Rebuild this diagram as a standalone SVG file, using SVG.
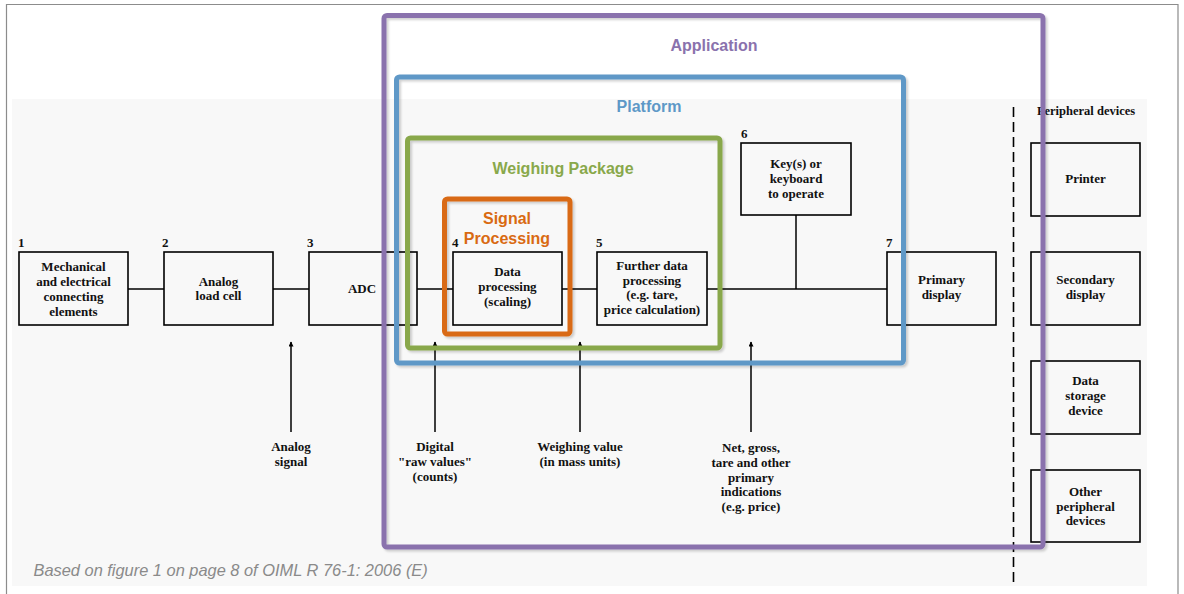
<svg xmlns="http://www.w3.org/2000/svg" width="1184" height="594" viewBox="0 0 1184 594">
<defs>
<style>
.box{fill:none;stroke:#000;stroke-width:1.6}
.bt{font-family:"Liberation Serif","Times New Roman",serif;font-weight:bold;font-size:13px;fill:#111;text-anchor:middle}
.num{font-family:"Liberation Serif","Times New Roman",serif;font-weight:bold;font-size:13px;fill:#111}
.line{stroke:#000;stroke-width:1.5;fill:none}
.frame{fill:none;stroke-width:5;filter:url(#sh)}
.fl{font-family:"Liberation Sans",Arial,sans-serif;font-weight:bold;font-size:16px;text-anchor:middle}
</style>
<marker id="ah" viewBox="0 0 10 10" refX="9" refY="5" markerWidth="10" markerHeight="5" markerUnits="userSpaceOnUse" orient="auto">
<path d="M0,0 L10,5 L0,10 z" fill="#000"/>
</marker>
<filter id="sh" x="-5%" y="-5%" width="110%" height="110%">
<feDropShadow dx="2" dy="2" stdDeviation="1.2" flood-color="#000" flood-opacity="0.18"/>
</filter>
</defs>
<rect x="0" y="0" width="1184" height="594" fill="#fff"/>
<path d="M6.5,600 V4.5 H1178 V600" fill="none" stroke="#8c8c8c" stroke-width="1.2"/>
<rect x="12" y="99" width="1135" height="487" fill="#f8f8f8"/>

<g id="connectors">
<line class="line" x1="128" y1="289" x2="164" y2="289"/>
<line class="line" x1="273" y1="289" x2="309" y2="289"/>
<line class="line" x1="417" y1="289" x2="453" y2="289"/>
<line class="line" x1="562" y1="289" x2="597" y2="289"/>
<line class="line" x1="707" y1="289" x2="887" y2="289"/>
<line class="line" x1="796" y1="215" x2="796" y2="289"/>
<line class="line" x1="291" y1="432" x2="291" y2="342" marker-end="url(#ah)"/>
<line class="line" x1="435" y1="432" x2="435" y2="342" marker-end="url(#ah)"/>
<line class="line" x1="580" y1="432" x2="580" y2="342" marker-end="url(#ah)"/>
<line class="line" x1="751" y1="432" x2="751" y2="342" marker-end="url(#ah)"/>
<line x1="1013.5" y1="107" x2="1013.5" y2="582" stroke="#000" stroke-width="1.6" stroke-dasharray="10,5"/>
</g>

<g id="n1"><text class="num" x="18" y="247">1</text><rect class="box" x="19" y="252" width="109" height="73"/>
<text class="bt" x="73.5" y="271">Mechanical</text><text class="bt" x="73.5" y="286">and electrical</text><text class="bt" x="73.5" y="301">connecting</text><text class="bt" x="73.5" y="316">elements</text></g>
<g id="n2"><text class="num" x="162" y="247">2</text><rect class="box" x="164" y="252" width="109" height="73"/>
<text class="bt" x="218.5" y="286">Analog</text><text class="bt" x="218.5" y="300">load cell</text></g>
<g id="n3"><text class="num" x="307" y="247">3</text><rect class="box" x="309" y="252" width="108" height="73"/>
<text class="bt" x="362" y="293">ADC</text></g>
<g id="n4"><text class="num" x="452" y="247">4</text><rect class="box" x="453" y="252" width="109" height="73"/>
<text class="bt" x="507.5" y="276">Data</text><text class="bt" x="507.5" y="291">processing</text><text class="bt" x="507.5" y="306">(scaling)</text></g>
<g id="n5"><text class="num" x="596" y="247">5</text><rect class="box" x="597" y="252" width="110" height="73"/>
<text class="bt" x="652" y="270">Further data</text><text class="bt" x="652" y="285">processing</text><text class="bt" x="652" y="299">(e.g. tare,</text><text class="bt" x="652" y="314">price calculation)</text></g>
<g id="n6"><text class="num" x="741" y="138">6</text><rect class="box" x="741" y="143" width="110" height="72"/>
<text class="bt" x="796" y="168">Key(s) or</text><text class="bt" x="796" y="183">keyboard</text><text class="bt" x="796" y="198">to operate</text></g>
<g id="n7"><text class="num" x="886" y="247">7</text><rect class="box" x="887" y="252" width="109" height="73"/>
<text class="bt" x="941.5" y="284">Primary</text><text class="bt" x="941.5" y="299">display</text></g>

<g id="labels">
<text class="bt" x="291" y="451">Analog</text><text class="bt" x="291" y="466">signal</text>
<text class="bt" x="435" y="451">Digital</text><text class="bt" x="435" y="466">"raw values"</text><text class="bt" x="435" y="481">(counts)</text>
<text class="bt" x="580" y="451">Weighing value</text><text class="bt" x="580" y="466">(in mass units)</text>
<text class="bt" x="751" y="452">Net, gross,</text><text class="bt" x="751" y="467">tare and other</text><text class="bt" x="751" y="482">primary</text><text class="bt" x="751" y="496">indications</text><text class="bt" x="751" y="511">(e.g. price)</text>
</g>

<g id="peripherals">
<text class="bt" x="1086" y="115" style="font-size:12.5px">Peripheral devices</text>
<g id="p1"><rect class="box" x="1031" y="143" width="109" height="73"/><text class="bt" x="1085.5" y="183">Printer</text></g>
<g id="p2"><rect class="box" x="1031" y="252" width="109" height="73"/><text class="bt" x="1085.5" y="284">Secondary</text><text class="bt" x="1085.5" y="299">display</text></g>
<g id="p3"><rect class="box" x="1031" y="361" width="109" height="73"/><text class="bt" x="1085.5" y="385">Data</text><text class="bt" x="1085.5" y="400">storage</text><text class="bt" x="1085.5" y="415">device</text></g>
<g id="p4"><rect class="box" x="1031" y="470" width="109" height="72"/><text class="bt" x="1085.5" y="496">Other</text><text class="bt" x="1085.5" y="511">peripheral</text><text class="bt" x="1085.5" y="525">devices</text></g>
</g>

<g id="application"><rect class="frame" x="384" y="15.5" width="659" height="531.5" rx="3" stroke="#8a72ad"/>
<text class="fl" x="714" y="51" fill="#8a72ad">Application</text></g>
<g id="platform"><rect class="frame" x="396.5" y="77" width="507" height="286" rx="3" stroke="#5e98c7"/>
<text class="fl" x="649" y="112" fill="#5e98c7">Platform</text></g>
<g id="weighing-package"><rect class="frame" x="407.5" y="138" width="312.5" height="210" rx="3" stroke="#89a84b"/>
<text class="fl" x="563" y="174" fill="#89a84b">Weighing Package</text></g>
<g id="signal-processing"><rect class="frame" x="444.5" y="199" width="125.5" height="135" rx="3" stroke="#d96a12" stroke-width="6"/>
<text class="fl" x="507" y="224" fill="#d96a12">Signal</text><text class="fl" x="507" y="244" fill="#d96a12">Processing</text></g>

<text x="33.5" y="576" font-family="Liberation Sans, Arial, sans-serif" font-style="italic" font-size="16.4" fill="#8a8a8a">Based on figure 1 on page 8 of OIML R 76-1: 2006 (E)</text>
</svg>
